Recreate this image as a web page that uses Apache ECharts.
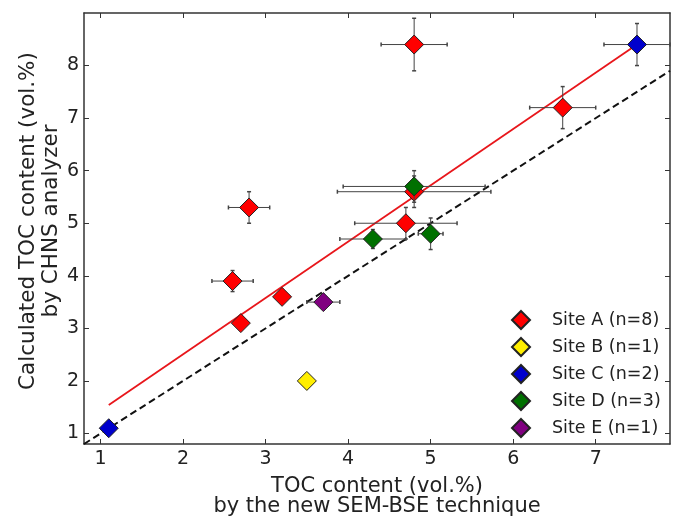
<!DOCTYPE html>
<html>
<head>
<meta charset="utf-8">
<script src="https://cdn.jsdelivr.net/npm/echarts@6/dist/echarts.min.js"></script>
<style>
  html, body { margin: 0; padding: 0; background: #fff; }
  #chart { width: 673px; height: 518px; }
</style>
</head>
<body>
<div id="chart"></div>
<script>
// Site measurements: TOC from SEM-BSE (x) vs. CHNS analyzer (y), with uncertainties
const siteNames = ['Site A (n=8)', 'Site B (n=1)', 'Site C (n=2)', 'Site D (n=3)', 'Site E (n=1)'];
const siteColors = ['#ff0000', '#ffee00', '#0000cc', '#007000', '#800080'];

const siteA_x    = [4.8, 6.6, 2.8, 2.6, 3.2, 2.7, 4.7, 4.8];
const siteA_y    = [8.4, 7.2, 5.3, 3.9, 3.6, 3.1, 5.0, 5.6];
const siteA_xErr = [0.4, 0.4, 0.25, 0.25, 0.08, 0.08, 0.62, 0.93];
const siteA_yErr = [0.5, 0.4, 0.3, 0.2, 0.1, 0.1, 0.3, 0.3];

const siteB_x    = [3.5];
const siteB_y    = [2.0];
const siteB_xErr = [0];
const siteB_yErr = [0];

const siteC_x    = [1.1, 7.5];
const siteC_y    = [1.1, 8.4];
const siteC_xErr = [0.05, 0.4];
const siteC_yErr = [0.05, 0.4];

const siteD_x    = [4.8, 4.3, 5.0];
const siteD_y    = [5.7, 4.7, 4.8];
const siteD_xErr = [0.86, 0.4, 0.15];
const siteD_yErr = [0.3, 0.18, 0.3];

const siteE_x    = [3.7];
const siteE_y    = [3.5];
const siteE_xErr = [0.2];
const siteE_yErr = [0.1];

// Regression line and 1:1 reference line endpoints
const fitX = [1.1, 7.5];
const fitY = [1.54, 8.4];
const oneToOneX = [0.8, 7.9];
const oneToOneY = [0.8, 7.9];

const xTicks = [1, 2, 3, 4, 5, 6, 7];
const yTicks = [1, 2, 3, 4, 5, 6, 7, 8];

const sites = [
  [siteA_x, siteA_y, siteA_xErr, siteA_yErr],
  [siteB_x, siteB_y, siteB_xErr, siteB_yErr],
  [siteC_x, siteC_y, siteC_xErr, siteC_yErr],
  [siteD_x, siteD_y, siteD_xErr, siteD_yErr],
  [siteE_x, siteE_y, siteE_xErr, siteE_yErr]
];

const FONT = 'DejaVu Sans';
const TEXT_COLOR = '#222';
const AXIS_COLOR = '#333';
const BAR_COLOR = '#444';

function errorBarItem(params, api) {
  const x = api.value(0), y = api.value(1), xe = api.value(2), ye = api.value(3);
  const children = [];
  const cap = 2;
  const stem = { stroke: BAR_COLOR, lineWidth: 1 };
  const capStyle = { stroke: BAR_COLOR, lineWidth: 1.5 };
  if (xe > 0) {
    const l = api.coord([x - xe, y]);
    const r = api.coord([x + xe, y]);
    children.push({ type: 'line', shape: { x1: l[0], y1: l[1], x2: r[0], y2: r[1] }, style: stem });
    children.push({ type: 'line', shape: { x1: l[0], y1: l[1] - cap, x2: l[0], y2: l[1] + cap }, style: capStyle });
    children.push({ type: 'line', shape: { x1: r[0], y1: r[1] - cap, x2: r[0], y2: r[1] + cap }, style: capStyle });
  }
  if (ye > 0) {
    const b = api.coord([x, y - ye]);
    const t = api.coord([x, y + ye]);
    children.push({ type: 'line', shape: { x1: b[0], y1: b[1], x2: t[0], y2: t[1] }, style: stem });
    children.push({ type: 'line', shape: { x1: b[0] - cap, y1: b[1], x2: b[0] + cap, y2: b[1] }, style: capStyle });
    children.push({ type: 'line', shape: { x1: t[0] - cap, y1: t[1], x2: t[0] + cap, y2: t[1] }, style: capStyle });
  }
  return { type: 'group', children };
}

const series = [];

// 1:1 dashed line and fitted line
series.push({
  type: 'line',
  data: oneToOneX.map((v, i) => [v, oneToOneY[i]]),
  symbol: 'none',
  lineStyle: { color: '#111', width: 2, type: [7, 4] },
  z: 1,
  silent: true
});
series.push({
  type: 'line',
  data: fitX.map((v, i) => [v, fitY[i]]),
  symbol: 'none',
  lineStyle: { color: '#e8161b', width: 1.8 },
  z: 1,
  silent: true
});

sites.forEach((s, k) => {
  const [xs, ys, xe, ye] = s;
  series.push({
    type: 'custom',
    renderItem: errorBarItem,
    data: xs.map((v, i) => [v, ys[i], xe[i], ye[i]]),
    z: 2 + k * 2,
    silent: true
  });
  series.push({
    name: siteNames[k],
    type: 'scatter',
    symbol: 'diamond',
    symbolSize: 19,
    data: xs.map((v, i) => [v, ys[i]]),
    itemStyle: { color: siteColors[k], borderColor: '#222', borderWidth: 1, opacity: 1 },
    z: 3 + k * 2
  });
});

const chart = echarts.init(document.getElementById('chart'), null, { renderer: 'canvas' });

const tickCommon = { show: true, inside: true, length: 5, lineStyle: { color: AXIS_COLOR, width: 1 } };
const lineCommon = { show: true, onZero: false, lineStyle: { color: AXIS_COLOR, width: 1.5 } };
const tickFont = { fontFamily: FONT, fontSize: 19, color: TEXT_COLOR };

chart.setOption({
  animation: false,
  backgroundColor: '#fff',
  grid: { left: 84, top: 13, right: 3, bottom: 74, outerBoundsMode: 'none', containLabel: false },
  legend: {
    orient: 'vertical',
    left: 511,
    top: 310,
    padding: 0,
    itemWidth: 18,
    itemHeight: 18,
    itemGap: 7,
    icon: 'diamond',
    data: siteNames,
    textStyle: { fontFamily: FONT, fontSize: 17.5, lineHeight: 18, color: TEXT_COLOR, padding: [0, 0, 0, 17] }
  },
  xAxis: [
    {
      type: 'value', min: 0.8, max: 7.9,
      axisLine: lineCommon,
      axisTick: Object.assign({}, tickCommon, { customValues: xTicks }),
      axisLabel: Object.assign({ customValues: xTicks, margin: 6 }, tickFont),
      splitLine: { show: false },
      name: 'TOC content (vol.%)\nby the new SEM-BSE technique',
      nameLocation: 'middle',
      nameGap: 33,
      nameMoveOverlap: false,
      nameTextStyle: { fontFamily: FONT, fontSize: 21, color: TEXT_COLOR, lineHeight: 20 }
    },
    {
      type: 'value', min: 0.8, max: 7.9, position: 'top',
      axisLine: lineCommon,
      axisTick: Object.assign({}, tickCommon, { customValues: xTicks }),
      axisLabel: { show: false },
      splitLine: { show: false }
    }
  ],
  yAxis: [
    {
      type: 'value', min: 0.8, max: 9.0,
      axisLine: lineCommon,
      axisTick: Object.assign({}, tickCommon, { customValues: yTicks }),
      axisLabel: Object.assign({ customValues: yTicks, margin: 5 }, tickFont),
      splitLine: { show: false },
      name: 'Calculated TOC content (vol.%)\nby CHNS analyzer',
      nameLocation: 'middle',
      nameGap: 21,
      nameMoveOverlap: false,
      nameRotate: 90,
      nameTextStyle: { fontFamily: FONT, fontSize: 21.5, color: TEXT_COLOR, lineHeight: 23, padding: [0, 0, 0, 15] }
    },
    {
      type: 'value', min: 0.8, max: 9.0, position: 'right',
      axisLine: lineCommon,
      axisTick: Object.assign({}, tickCommon, { customValues: yTicks }),
      axisLabel: { show: false },
      splitLine: { show: false }
    }
  ],
  series
});
</script>
</body>
</html>
